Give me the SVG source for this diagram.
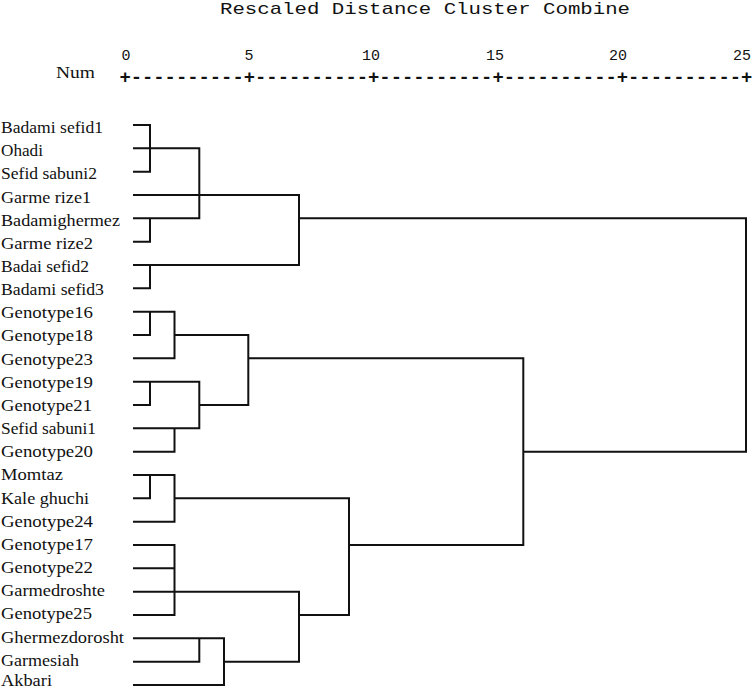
<svg xmlns="http://www.w3.org/2000/svg" width="756" height="688" viewBox="0 0 756 688">
<style>
.bg{fill:#ffffff}
.lbl{font-family:"Liberation Serif","Times New Roman",serif;font-size:17.5px;fill:#111}
.mono{font-family:"Liberation Mono","Courier New",monospace;fill:#111}
.ax{font-size:15px}
.dash{font-size:18.6px;font-weight:bold}
.ttl{font-size:17px}
.num{font-family:"Liberation Serif","Times New Roman",serif;font-size:16px;fill:#111}
.cn{fill:none;stroke:#111;stroke-width:2;stroke-linejoin:miter}
</style>
<rect class="bg" x="0" y="0" width="756" height="688"/>
<g id="axis">
<text class="mono ttl" x="220" y="14" textLength="410" lengthAdjust="spacingAndGlyphs">Rescaled Distance Cluster Combine</text>
<text class="mono ax" x="126" y="60" text-anchor="middle">0</text>
<text class="mono ax" x="249" y="60" text-anchor="middle">5</text>
<text class="mono ax" x="371" y="60" text-anchor="middle">10</text>
<text class="mono ax" x="495" y="60" text-anchor="middle">15</text>
<text class="mono ax" x="618" y="60" text-anchor="middle">20</text>
<text class="mono ax" x="742" y="60" text-anchor="middle">25</text>
<text class="num" x="56" y="78" textLength="39" lengthAdjust="spacingAndGlyphs">Num</text>
<text class="mono dash" x="119.4" y="83" textLength="633" lengthAdjust="spacingAndGlyphs">+----------+----------+----------+----------+----------+</text>
</g>
<g id="n0"><text class="lbl" x="1" y="133" textLength="102" lengthAdjust="spacingAndGlyphs">Badami sefid1</text></g>
<g id="n1"><text class="lbl" x="1" y="156.2" textLength="42" lengthAdjust="spacingAndGlyphs">Ohadi</text></g>
<g id="n2"><text class="lbl" x="1" y="179.3" textLength="96" lengthAdjust="spacingAndGlyphs">Sefid sabuni2</text></g>
<g id="n3"><text class="lbl" x="1" y="202.5" textLength="90" lengthAdjust="spacingAndGlyphs">Garme rize1</text></g>
<g id="n4"><text class="lbl" x="1" y="225.6" textLength="119" lengthAdjust="spacingAndGlyphs">Badamighermez</text></g>
<g id="n5"><text class="lbl" x="1" y="248.8" textLength="92" lengthAdjust="spacingAndGlyphs">Garme rize2</text></g>
<g id="n6"><text class="lbl" x="1" y="272" textLength="88" lengthAdjust="spacingAndGlyphs">Badai sefid2</text></g>
<g id="n7"><text class="lbl" x="1" y="295.1" textLength="103" lengthAdjust="spacingAndGlyphs">Badami sefid3</text></g>
<g id="n8"><text class="lbl" x="1" y="318.3" textLength="92" lengthAdjust="spacingAndGlyphs">Genotype16</text></g>
<g id="n9"><text class="lbl" x="1" y="341.4" textLength="92" lengthAdjust="spacingAndGlyphs">Genotype18</text></g>
<g id="n10"><text class="lbl" x="1" y="364.6" textLength="92" lengthAdjust="spacingAndGlyphs">Genotype23</text></g>
<g id="n11"><text class="lbl" x="1" y="387.8" textLength="92" lengthAdjust="spacingAndGlyphs">Genotype19</text></g>
<g id="n12"><text class="lbl" x="1" y="410.9" textLength="91" lengthAdjust="spacingAndGlyphs">Genotype21</text></g>
<g id="n13"><text class="lbl" x="1" y="434.1" textLength="95" lengthAdjust="spacingAndGlyphs">Sefid sabuni1</text></g>
<g id="n14"><text class="lbl" x="1" y="457.2" textLength="92" lengthAdjust="spacingAndGlyphs">Genotype20</text></g>
<g id="n15"><text class="lbl" x="1" y="480.4" textLength="62" lengthAdjust="spacingAndGlyphs">Momtaz</text></g>
<g id="n16"><text class="lbl" x="1" y="503.6" textLength="88" lengthAdjust="spacingAndGlyphs">Kale ghuchi</text></g>
<g id="n17"><text class="lbl" x="1" y="526.7" textLength="92" lengthAdjust="spacingAndGlyphs">Genotype24</text></g>
<g id="n18"><text class="lbl" x="1" y="549.9" textLength="92" lengthAdjust="spacingAndGlyphs">Genotype17</text></g>
<g id="n19"><text class="lbl" x="1" y="573" textLength="92" lengthAdjust="spacingAndGlyphs">Genotype22</text></g>
<g id="n20"><text class="lbl" x="1" y="596.2" textLength="104" lengthAdjust="spacingAndGlyphs">Garmedroshte</text></g>
<g id="n21"><text class="lbl" x="1" y="619.4" textLength="91" lengthAdjust="spacingAndGlyphs">Genotype25</text></g>
<g id="n22"><text class="lbl" x="1" y="642.5" textLength="123" lengthAdjust="spacingAndGlyphs">Ghermezdorosht</text></g>
<g id="n23"><text class="lbl" x="1" y="665.7" textLength="78" lengthAdjust="spacingAndGlyphs">Garmesiah</text></g>
<g id="n24"><text class="lbl" x="1" y="685.5" textLength="51" lengthAdjust="spacingAndGlyphs">Akbari</text></g>
<g id="connectors">
<path class="cn" d="M133 125 H150 V171.7 H133"/>
<path class="cn" d="M133 148.3 H199.3 V218.3 H133"/>
<path class="cn" d="M133 241.7 H150 V218.3"/>
<path class="cn" d="M133 195 H299 V265 H133"/>
<path class="cn" d="M150 265 V288.3 H133"/>
<path class="cn" d="M299 218.3 H746 V451.7 H523.3"/>
<path class="cn" d="M133 311.7 H174.5 V358.3 H133"/>
<path class="cn" d="M150 311.7 V335 H133"/>
<path class="cn" d="M174.5 335 H248.3 V405 H199.3"/>
<path class="cn" d="M133 381.7 H199.3 V428.3 H133"/>
<path class="cn" d="M150 381.7 V405 H133"/>
<path class="cn" d="M174.5 428.3 V451.7 H133"/>
<path class="cn" d="M248.3 358.3 H523.3 V545 H349"/>
<path class="cn" d="M133 475 H174.5 V521.7 H133"/>
<path class="cn" d="M150 475 V498.3 H133"/>
<path class="cn" d="M174.5 498.3 H349 V615 H299"/>
<path class="cn" d="M133 545 H174.5 V615 H133"/>
<path class="cn" d="M133 568.3 H174.5"/>
<path class="cn" d="M133 591.7 H299 V661.7 H224"/>
<path class="cn" d="M133 638.3 H224 V685 H133"/>
<path class="cn" d="M199.3 638.3 V661.7 H133"/>
</g>
</svg>
